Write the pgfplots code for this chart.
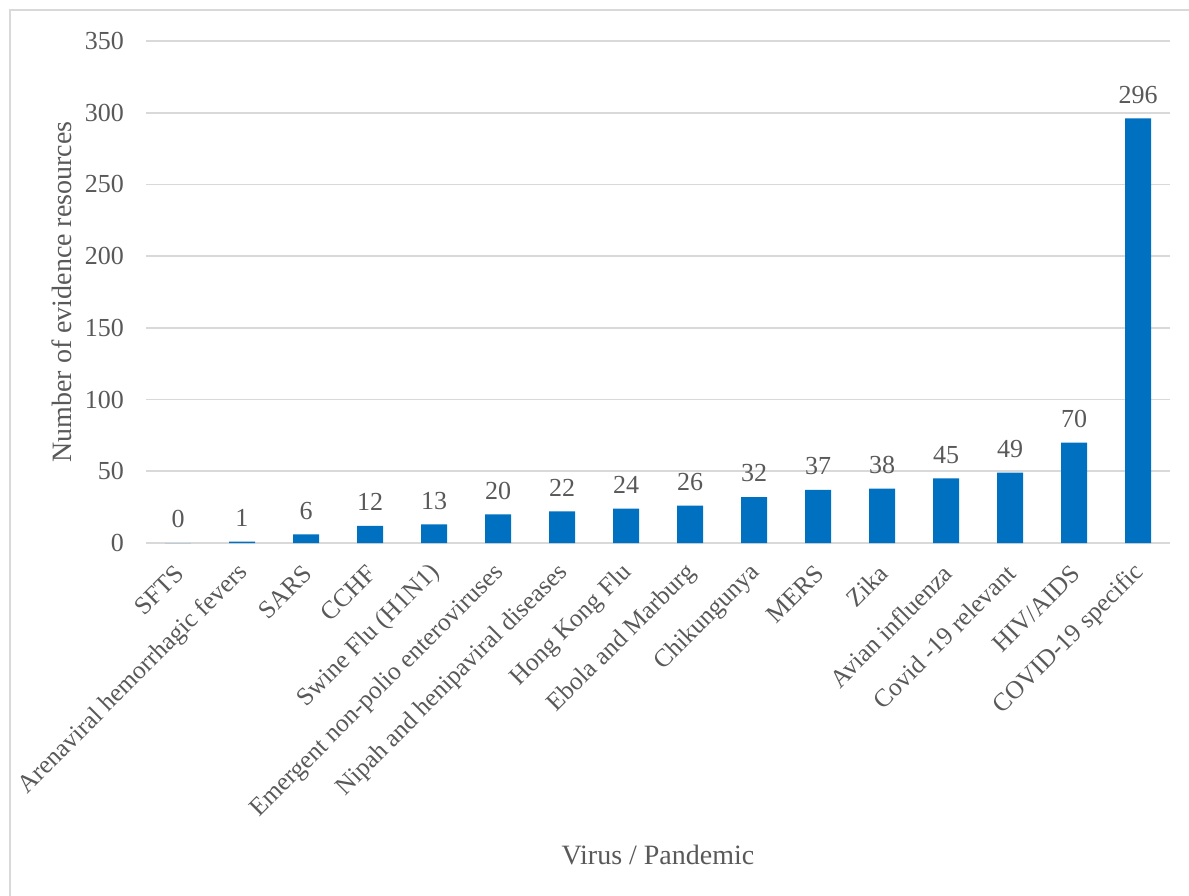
\documentclass[border=0pt]{standalone}
\usepackage{fontspec}
\setmainfont{Liberation Serif}
\usepackage{pgfplots}
\pgfplotsset{compat=1.18}
\definecolor{barblue}{HTML}{0070C0}
\definecolor{gridgray}{HTML}{D9D9D9}
\definecolor{txtgray}{HTML}{595959}
\begin{document}
\begin{tikzpicture}
\useasboundingbox (-73pt,-176pt) rectangle (521.5pt,271.5pt);
\clip (-73pt,-176pt) rectangle (521.5pt,271.5pt);
\draw[gridgray, line width=1.2pt] (-68pt,-190pt) -- (-68pt,266.5pt) -- (540pt,266.5pt);
\begin{axis}[
  at={(0pt,0pt)}, anchor=south west,
  scale only axis, width=512pt, height=251pt,
  xmin=-0.5, xmax=15.5, ymin=0, ymax=350,
  ytick={0,50,...,350},
  xtick=data,
  xticklabels={SFTS, Arenaviral hemorrhagic fevers, SARS, CCHF, Swine Flu (H1N1), Emergent non-polio enteroviruses, Nipah and henipaviral diseases, Hong Kong Flu, Ebola and Marburg, Chikungunya, MERS, Zika, Avian influenza, Covid -19 relevant, HIV/AIDS, COVID-19 specific},
  axis line style={draw=none},
  major tick length=0pt,
  ymajorgrids, grid style={gridgray, line width=0.8pt},
  tick label style={font=\fontsize{13}{15}\selectfont, text=txtgray},
  /pgf/number format/assume math mode=true,
  xticklabel style={font=\fontsize{12.7}{14}\selectfont, xshift=1pt, yshift=-13pt, rotate=45, anchor=east, inner sep=0pt},
  yticklabel style={xshift=-7.5pt},
  ylabel={Number of evidence resources},
  xlabel={Virus / Pandemic},
  label style={font=\fontsize{14}{16}\selectfont, text=txtgray},
  ylabel style={at={(axis description cs:-0.082,0.5)}, anchor=center},
  xlabel style={at={(axis description cs:0.5,-0.6215)}, anchor=center},
  nodes near coords,
  every node near coord/.append style={font=\fontsize{13}{15}\selectfont, text=txtgray, yshift=4pt},
  clip=false,
]
\draw[gridgray, line width=0.8pt] (axis cs:-0.5,0) -- (axis cs:15.5,0);
\addplot[ybar, bar width=13pt, fill=barblue, draw=none] coordinates {
(0,0) (1,1) (2,6) (3,12) (4,13) (5,20) (6,22) (7,24) (8,26) (9,32) (10,37) (11,38) (12,45) (13,49) (14,70) (15,296)
};
\end{axis}
\end{tikzpicture}
\end{document}
